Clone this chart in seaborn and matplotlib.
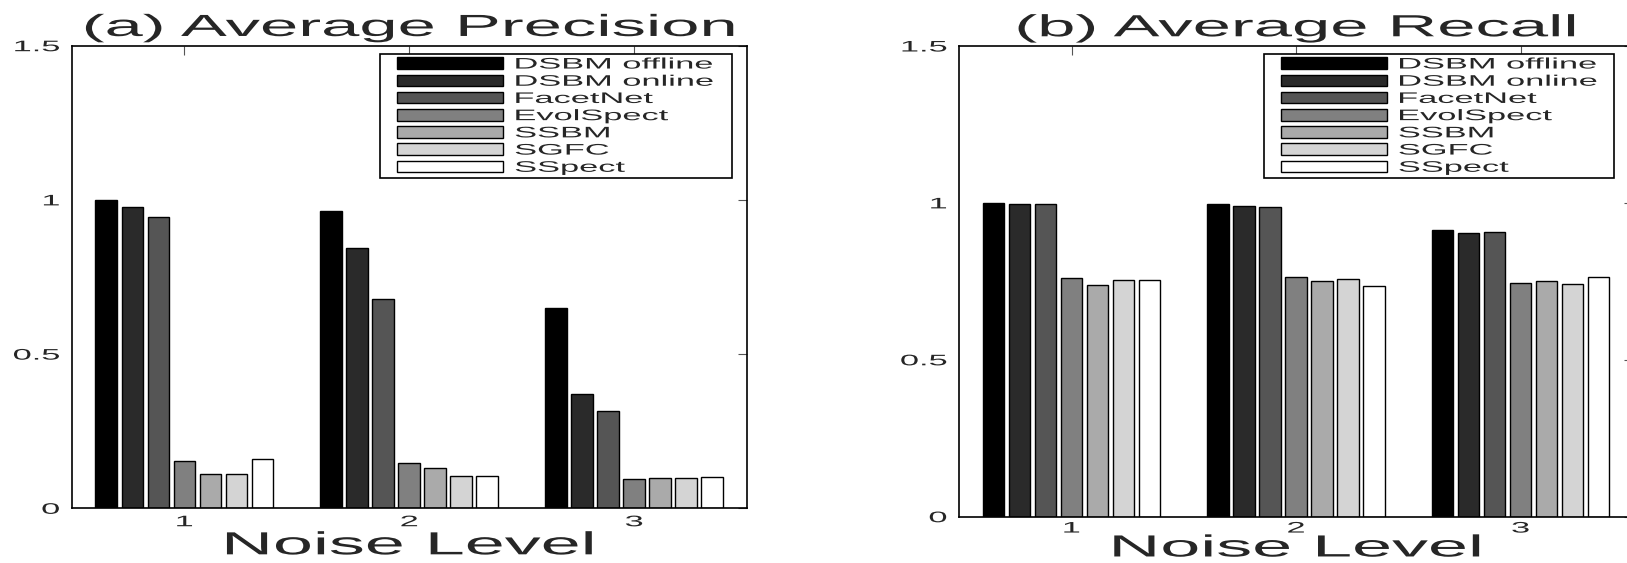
import matplotlib
matplotlib.use("Agg")
import matplotlib.pyplot as plt
import numpy as np
import pandas as pd
import seaborn as sns
from matplotlib.patches import Patch, Rectangle
from matplotlib.legend_handler import HandlerPatch
from matplotlib.patheffects import AbstractPathEffect
from matplotlib.transforms import Affine2D

# ---------------------------------------------------------------- data
methods = ["DSBM offline", "DSBM online", "FacetNet", "EvolSpect",
           "SSBM", "SGFC", "SSpect"]
noise_levels = ["1", "2", "3"]

# one row per method, one column per noise level
precision = [
    [1.000, 0.963, 0.650],
    [0.978, 0.845, 0.372],
    [0.944, 0.680, 0.316],
    [0.154, 0.146, 0.096],
    [0.112, 0.132, 0.097],
    [0.112, 0.104, 0.098],
    [0.160, 0.104, 0.102],
]
recall = [
    [1.000, 0.996, 0.915],
    [0.998, 0.989, 0.904],
    [0.998, 0.986, 0.908],
    [0.762, 0.764, 0.744],
    [0.738, 0.751, 0.750],
    [0.754, 0.756, 0.740],
    [0.754, 0.735, 0.764],
]

y_ticks = [0, 0.5, 1, 1.5]
y_tick_labels = ["0", "0.5", "1", "1.5"]

gray_levels = ["#000000", "#2a2a2a", "#555555", "#808080",
               "#aaaaaa", "#d4d4d4", "#ffffff"]

# ---------------------------------------------------------------- style
sns.set_style("white")
plt.rcParams["font.family"] = ["Liberation Sans", "DejaVu Sans"]

WIDE = 2.25  # horizontal glyph stretch used for every label


class WideGlyphs(AbstractPathEffect):
    """Draw text glyphs stretched horizontally about an anchor."""

    def __init__(self, factor, anchor="center"):
        super().__init__()
        self.factor = factor
        self.anchor = anchor

    def draw_path(self, renderer, gc, tpath, affine, rgbFace=None):
        ext = tpath.get_extents()
        if self.anchor == "left":
            x0 = ext.x0
        elif self.anchor == "right":
            x0 = ext.x1
        else:
            x0 = 0.5 * (ext.x0 + ext.x1)
        pre = Affine2D().translate(-x0, 0).scale(self.factor, 1).translate(x0, 0)
        renderer.draw_path(gc, tpath, pre + affine, rgbFace)


def legend_patch(legend, orig_handle, xdescent, ydescent, width, height, fontsize):
    inset = 0.117 * width
    return Rectangle((-xdescent + inset, -ydescent), width - inset, height)


def long_table(values):
    rows = []
    for m, series in zip(methods, values):
        for lvl, v in zip(noise_levels, series):
            rows.append({"Noise Level": lvl, "Method": m, "Value": v})
    return pd.DataFrame(rows)


def draw_panel(ax, values, title, legend_box, xtick_pad, xlabel_size, xlabel_pad):
    df = long_table(values)
    sns.barplot(data=df, x="Noise Level", y="Value", hue="Method",
                order=noise_levels, hue_order=methods, palette=gray_levels,
                saturation=1, width=0.81, gap=0.164, edgecolor="black",
                linewidth=1.0, legend=False, ax=ax)
    ax.set_xlim(-0.5, 2.5)
    ax.set_ylim(0, 1.5)
    ax.set_yticks(y_ticks, labels=y_tick_labels)
    ax.set_xticks(range(len(noise_levels)), labels=noise_levels)
    ax.tick_params(which="both", direction="in", top=True, right=True,
                   length=6.5, width=0.8, color="#555555", labelsize=11)
    ax.tick_params(axis="y", pad=9)
    ax.tick_params(axis="x", pad=xtick_pad)
    for s in ax.spines.values():
        s.set_visible(True)
        s.set_color("black")
        s.set_linewidth(1.2)
    ax.set_ylabel("")
    ax.set_xlabel("Noise Level", fontsize=xlabel_size, labelpad=xlabel_pad)
    ax.set_title(title, fontsize=22, pad=7)

    handles = [Patch(facecolor=c, edgecolor="black", linewidth=1.0, label=m)
               for c, m in zip(gray_levels, methods)]
    leg = ax.legend(handles=handles, loc="upper left",
                    bbox_to_anchor=legend_box, mode="expand",
                    borderaxespad=0, borderpad=0.22, labelspacing=0.2,
                    handlelength=7.84, handleheight=0.80, handletextpad=0.78,
                    fontsize=11, frameon=True, fancybox=False,
                    framealpha=1, edgecolor="black",
                    handler_map={Patch: HandlerPatch(patch_func=legend_patch)})
    leg.get_frame().set_linewidth(1.2)
    for t in leg.get_texts():
        t.set_path_effects([WideGlyphs(WIDE, "left")])
    ax.title.set_path_effects([WideGlyphs(WIDE)])
    ax.xaxis.label.set_path_effects([WideGlyphs(WIDE * 23 / xlabel_size)])


fig = plt.figure(figsize=(16.27, 5.63), dpi=100)
ax_p = fig.add_axes([0.04425, 0.09716, 0.41457, 0.82167])
ax_r = fig.add_axes([0.5896, 0.08224, 0.41395, 0.83606])

draw_panel(ax_p, precision, "(a) Average Precision",
           (0.4566, 0.0, 0.522, 0.982), 5, 23, 1.5)
draw_panel(ax_r, recall, "(b) Average Recall",
           (0.452, 0.0, 0.5207, 0.983), 3.5, 22, -1.5)

fig.canvas.draw()
for ax in (ax_p, ax_r):
    for lab in ax.get_yticklabels():
        lab.set_path_effects([WideGlyphs(WIDE, "right")])
    for lab in ax.get_xticklabels():
        lab.set_path_effects([WideGlyphs(WIDE)])

fig.savefig("out.png", dpi=100)
